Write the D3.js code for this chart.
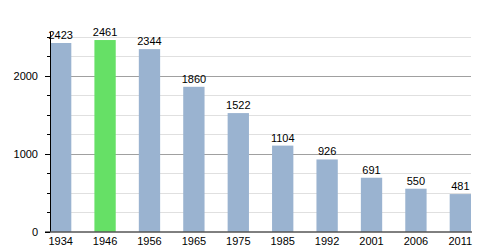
<!DOCTYPE html>
<html>
<head>
<meta charset="utf-8">
<script src="https://cdn.jsdelivr.net/npm/d3@7"></script>
<style>
  body { margin: 0; background: #fff; }
  text { font-family: "Liberation Sans", Arial, sans-serif; }
</style>
</head>
<body>
<div id="chart"></div>
<script>
// data
const years = ["1934", "1946", "1956", "1965", "1975", "1985", "1992", "2001", "2006", "2011"];
const population = [2423, 2461, 2344, 1860, 1522, 1104, 926, 691, 550, 481];
const highlight = ["1946"];
const majorTicks = [0, 1000, 2000];
const minorTicks = [250, 500, 750, 1250, 1500, 1750, 2250, 2500];

const width = 500, height = 250;
const plotLeft = 50, plotRight = 471, plotTop = 37, plotBottom = 231.5;

const svg = d3.select("#chart").append("svg")
    .attr("width", width)
    .attr("height", height);

const x = d3.scaleBand()
    .domain(years)
    .range([plotLeft, plotRight])
    .paddingInner(0.52)
    .paddingOuter(0);

const y = d3.scaleLinear()
    .domain([0, 2500])
    .range([plotBottom, plotTop]);

// gridlines
svg.append("g").selectAll("line")
    .data(minorTicks)
    .enter().append("line")
    .attr("x1", plotLeft).attr("x2", plotRight)
    .attr("y1", d => Math.round(y(d)) + 0.5)
    .attr("y2", d => Math.round(y(d)) + 0.5)
    .attr("stroke", "#e0e0e0");

svg.append("g").selectAll("line")
    .data(majorTicks.filter(d => d > 0))
    .enter().append("line")
    .attr("x1", plotLeft).attr("x2", plotRight)
    .attr("y1", d => Math.round(y(d)) + 0.5)
    .attr("y2", d => Math.round(y(d)) + 0.5)
    .attr("stroke", "#a0a0a0");

// bars
svg.append("g").selectAll("rect")
    .data(years)
    .enter().append("rect")
    .attr("x", d => x(d))
    .attr("width", x.bandwidth())
    .attr("y", (d, i) => y(population[i]))
    .attr("height", (d, i) => plotBottom - y(population[i]))
    .attr("fill", d => highlight.includes(d) ? "#66e066" : "#9ab3d0");

// value labels
svg.append("g").selectAll("text")
    .data(years)
    .enter().append("text")
    .attr("x", d => x(d) + x.bandwidth() / 2)
    .attr("y", (d, i) => y(population[i]) - 4)
    .attr("text-anchor", "middle")
    .attr("font-size", 11)
    .attr("fill", "#000")
    .text((d, i) => population[i]);

// y axis
const yAxis = svg.append("g");
yAxis.append("line")
    .attr("x1", plotLeft + 0.5).attr("x2", plotLeft + 0.5)
    .attr("y1", plotTop - 5).attr("y2", plotBottom)
    .attr("stroke", "#000");
yAxis.selectAll(".major")
    .data(majorTicks)
    .enter().append("line")
    .attr("x1", plotLeft - 5).attr("x2", plotLeft)
    .attr("y1", d => Math.round(y(d)) + 0.5)
    .attr("y2", d => Math.round(y(d)) + 0.5)
    .attr("stroke", "#000");
yAxis.selectAll(".minor")
    .data(minorTicks)
    .enter().append("line")
    .attr("x1", plotLeft - 3).attr("x2", plotLeft)
    .attr("y1", d => Math.round(y(d)) + 0.5)
    .attr("y2", d => Math.round(y(d)) + 0.5)
    .attr("stroke", "#000");
yAxis.selectAll("text")
    .data(majorTicks)
    .enter().append("text")
    .attr("x", plotLeft - 12)
    .attr("y", d => y(d) + 4)
    .attr("text-anchor", "end")
    .attr("font-size", 11)
    .attr("fill", "#000")
    .text(d => d);

// x axis
svg.append("line")
    .attr("x1", plotLeft - 5).attr("x2", plotRight + 1)
    .attr("y1", plotBottom + 0.5).attr("y2", plotBottom + 0.5)
    .attr("stroke", "#000");
svg.append("g").selectAll("text")
    .data(years)
    .enter().append("text")
    .attr("x", d => x(d) + x.bandwidth() / 2)
    .attr("y", plotBottom + 13)
    .attr("text-anchor", "middle")
    .attr("font-size", 11)
    .attr("fill", "#000")
    .text(d => d);
</script>
</body>
</html>
